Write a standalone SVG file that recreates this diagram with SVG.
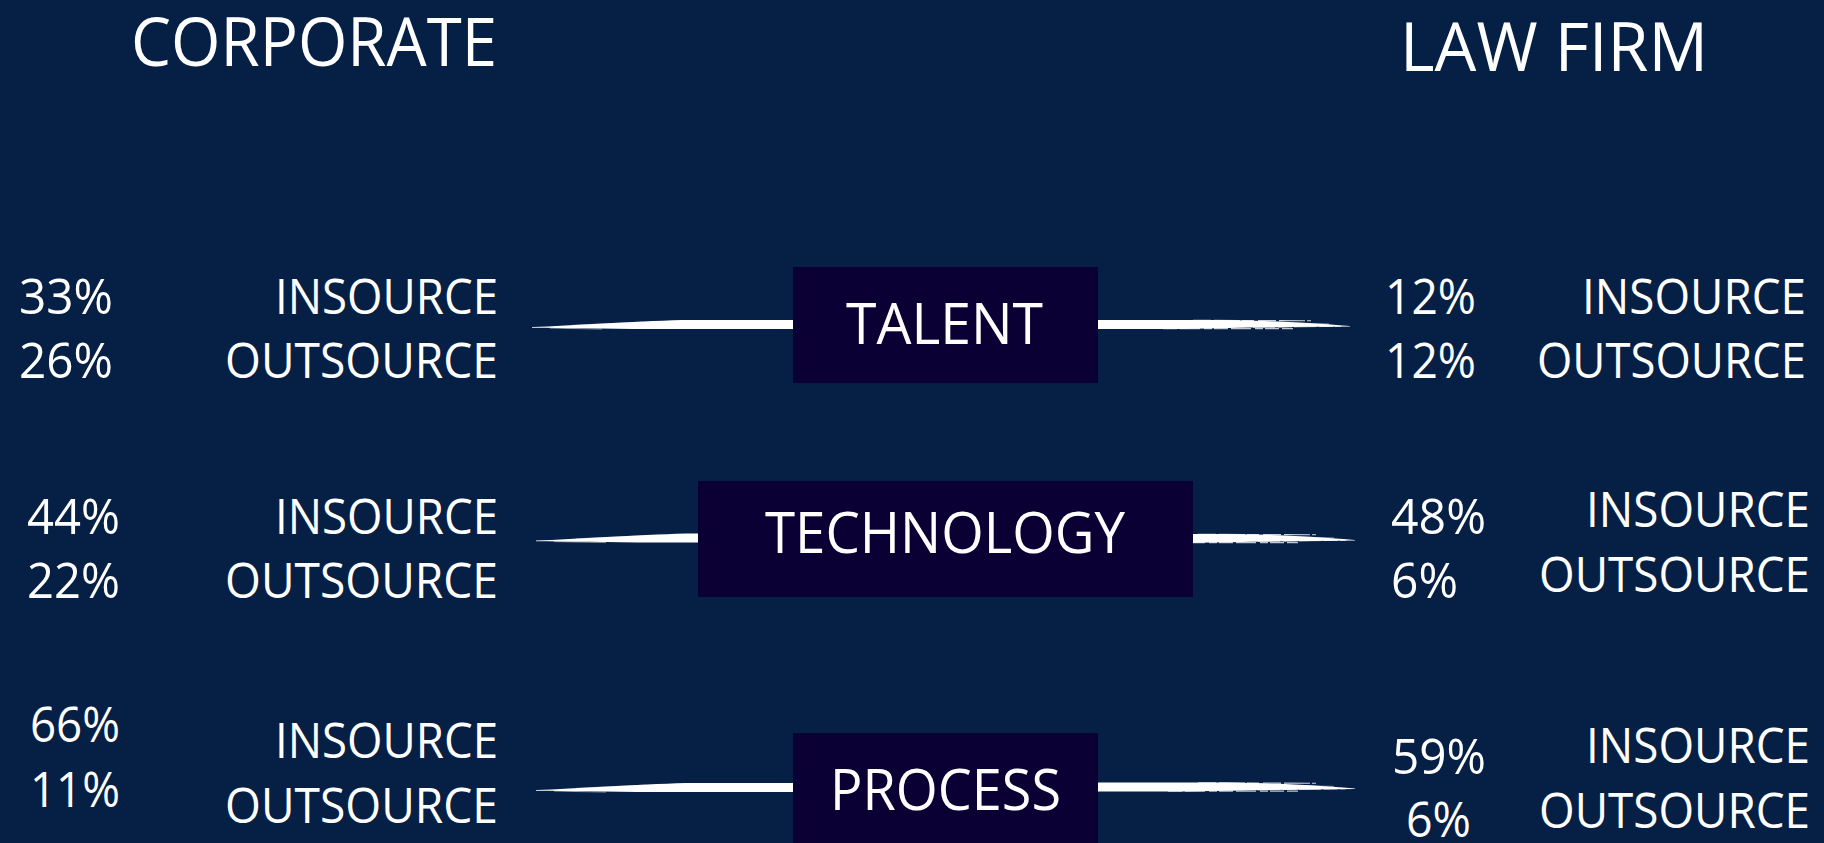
<svg xmlns="http://www.w3.org/2000/svg" xmlns:xlink="http://www.w3.org/1999/xlink" width="1824" height="843" viewBox="0 0 1824 843">
  <defs>
    <style>
      .bg { fill: #061f44; }
      .box { fill: #0a0033; }
      .t { fill: #ffffff; font-family: "Open Sans", "Noto Sans", "Liberation Sans", sans-serif; }
      .title { font-size: 67px; }
      .row { font-size: 49px; }
      .lbl { font-size: 56px; }
      .brush { fill: #ffffff; }
      .streak { stroke: #ffffff; fill: none; }
    </style>
    <!-- brush stroke running left into a box: thin tip on the left -->
    <g id="brushL">
      <path class="brush" d="M0,2.6 C40,1 100,-3 150,-4.5 L266,-4.5 L266,4.5 L120,4.5 C70,4.2 30,3.6 0,3.2 Z"/>
      <path class="streak" d="M18,3.6 L70,4.6" stroke-width="0.8" stroke-opacity="0.6"/>
      <path class="streak" d="M40,0.8 L110,-2.4" stroke-width="0.7" stroke-opacity="0.5"/>
    </g>
    <!-- brush stroke leaving a box to the right: ragged, thin tail -->
    <g id="brushR">
      <path class="brush" d="M0,-4.5 L110,-4.5 C160,-4.3 200,-3.2 257,1.4 L257,2 C200,2.4 150,3.2 90,4.5 L0,4.5 Z"/>
      <path class="streak" d="M100,-4.2 L218,-3.8" stroke-width="1.1" stroke-opacity="0.8" stroke-dasharray="18 3 26 2 12 4"/>
      <path class="streak" d="M70,4.2 L200,4.1" stroke-width="1.1" stroke-opacity="0.75" stroke-dasharray="14 3 20 4 8 2"/>
      <path class="streak" d="M160,2.8 L248,1.8" stroke-width="1" stroke-opacity="0.75" stroke-dasharray="22 3 14 2"/>
      <path class="streak" d="M180,-1.8 L236,-0.6" stroke-width="0.8" stroke-opacity="0.6"/>
    </g>
  </defs>

  <rect class="bg" x="0" y="0" width="1824" height="843"/>

  <!-- column headings -->
  <g id="heading-corporate">
    <text class="t title" x="131" y="66" textLength="366" lengthAdjust="spacingAndGlyphs">CORPORATE</text>
  </g>
  <g id="heading-lawfirm">
    <text class="t title" x="1400" y="71" textLength="308" lengthAdjust="spacingAndGlyphs">LAW FIRM</text>
  </g>

  <!-- connectors: brush strokes behind the centre boxes -->
  <g id="connectors">
    <use xlink:href="#brushL" x="532" y="324.5"/>
    <use xlink:href="#brushR" x="1093" y="324.5"/>
    <use xlink:href="#brushL" x="536" y="538"/>
    <use xlink:href="#brushR" x="1098" y="538.5"/>
    <use xlink:href="#brushL" x="536" y="787.5"/>
    <use xlink:href="#brushR" x="1098" y="787"/>
  </g>

  <!-- centre category boxes -->
  <g id="talent">
    <rect class="box" x="793" y="267" width="305" height="116"/>
    <text class="t lbl" x="846" y="344" textLength="197" lengthAdjust="spacingAndGlyphs">TALENT</text>
  </g>
  <g id="technology">
    <rect class="box" x="698" y="481" width="495" height="116"/>
    <text class="t lbl" x="765" y="553" textLength="360" lengthAdjust="spacingAndGlyphs">TECHNOLOGY</text>
  </g>
  <g id="process">
    <rect class="box" x="793" y="733" width="305" height="116"/>
    <text class="t lbl" x="830" y="810" textLength="231" lengthAdjust="spacingAndGlyphs">PROCESS</text>
  </g>

  <!-- corporate figures -->
  <g id="corp-talent">
    <text class="t row" x="19" y="314" textLength="94" lengthAdjust="spacingAndGlyphs">33%</text>
    <text class="t row" x="19" y="378" textLength="94" lengthAdjust="spacingAndGlyphs">26%</text>
    <text class="t row" x="275" y="314" textLength="223" lengthAdjust="spacingAndGlyphs">INSOURCE</text>
    <text class="t row" x="225" y="378" textLength="273" lengthAdjust="spacingAndGlyphs">OUTSOURCE</text>
  </g>
  <g id="corp-technology">
    <text class="t row" x="27" y="534" textLength="93" lengthAdjust="spacingAndGlyphs">44%</text>
    <text class="t row" x="27" y="598" textLength="93" lengthAdjust="spacingAndGlyphs">22%</text>
    <text class="t row" x="275" y="534" textLength="223" lengthAdjust="spacingAndGlyphs">INSOURCE</text>
    <text class="t row" x="225" y="598" textLength="273" lengthAdjust="spacingAndGlyphs">OUTSOURCE</text>
  </g>
  <g id="corp-process">
    <text class="t row" x="30" y="742" textLength="90" lengthAdjust="spacingAndGlyphs">66%</text>
    <text class="t row" x="30" y="807" textLength="90" lengthAdjust="spacingAndGlyphs">11%</text>
    <text class="t row" x="275" y="758" textLength="223" lengthAdjust="spacingAndGlyphs">INSOURCE</text>
    <text class="t row" x="225" y="823" textLength="273" lengthAdjust="spacingAndGlyphs">OUTSOURCE</text>
  </g>

  <!-- law firm figures -->
  <g id="law-talent">
    <text class="t row" x="1385" y="314" textLength="91" lengthAdjust="spacingAndGlyphs">12%</text>
    <text class="t row" x="1385" y="378" textLength="91" lengthAdjust="spacingAndGlyphs">12%</text>
    <text class="t row" x="1582" y="314" textLength="224" lengthAdjust="spacingAndGlyphs">INSOURCE</text>
    <text class="t row" x="1537" y="378" textLength="269" lengthAdjust="spacingAndGlyphs">OUTSOURCE</text>
  </g>
  <g id="law-technology">
    <text class="t row" x="1391" y="534" textLength="95" lengthAdjust="spacingAndGlyphs">48%</text>
    <text class="t row" x="1391" y="598" textLength="67" lengthAdjust="spacingAndGlyphs">6%</text>
    <text class="t row" x="1586" y="527" textLength="224" lengthAdjust="spacingAndGlyphs">INSOURCE</text>
    <text class="t row" x="1539" y="592" textLength="271" lengthAdjust="spacingAndGlyphs">OUTSOURCE</text>
  </g>
  <g id="law-process">
    <text class="t row" x="1392" y="774" textLength="94" lengthAdjust="spacingAndGlyphs">59%</text>
    <text class="t row" x="1406" y="837" textLength="65" lengthAdjust="spacingAndGlyphs">6%</text>
    <text class="t row" x="1586" y="763" textLength="224" lengthAdjust="spacingAndGlyphs">INSOURCE</text>
    <text class="t row" x="1539" y="828" textLength="271" lengthAdjust="spacingAndGlyphs">OUTSOURCE</text>
  </g>
</svg>
